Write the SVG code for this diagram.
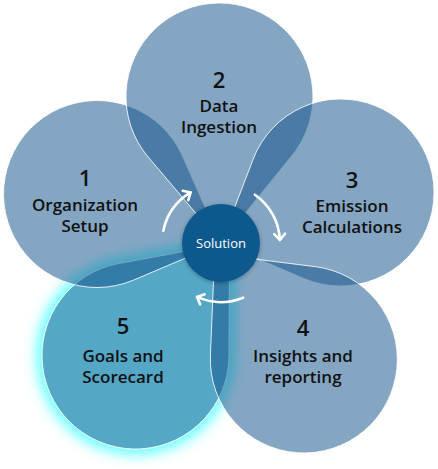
<svg xmlns="http://www.w3.org/2000/svg" width="438" height="469" viewBox="0 0 438 469">
<defs>
<style>
.pet{fill:#14558c;fill-opacity:0.52;stroke:#fff;stroke-opacity:0.85;stroke-width:1}
.p5{fill:#54a7c5;stroke:#fff;stroke-opacity:0.9;stroke-width:1}
.num{font-family:"Open Sans","Noto Sans",sans-serif;font-weight:600;font-size:22px;fill:#111;text-anchor:middle}
.lbl{font-family:"Open Sans","Noto Sans",sans-serif;font-weight:600;font-size:17px;fill:#111;text-anchor:middle}
.arr{fill:none;stroke:#fff;stroke-width:2.6;stroke-linecap:round}
</style>
<filter id="glow" x="-30%" y="-30%" width="160%" height="160%">
<feGaussianBlur stdDeviation="6"/>
</filter>
<filter id="sh" x="-30%" y="-30%" width="160%" height="160%">
<feDropShadow dx="0" dy="1" stdDeviation="2" flood-color="#000" flood-opacity="0.3"/>
</filter>
<marker id="ah" markerUnits="userSpaceOnUse" markerWidth="14" markerHeight="14" viewBox="0 0 14 14" refX="10" refY="7" orient="auto">
<path d="M4,1.5 L10,7 L4,12.5" fill="none" stroke="#fff" stroke-width="2.6" stroke-linecap="round" stroke-linejoin="round"/>
</marker>
</defs>
<g id="glow5">
<path d="M229.5,243 L229,355.1 A93.5,93.5 0 1 1 118.5,263.6 Z" fill="#6ff" filter="url(#glow)" transform="translate(135.5,355.5) scale(1.06) translate(-135.5,-355.5)"/>
</g>
<g id="petal5">
<path class="p5" d="M229.5,243 L229,355.1 A93.5,93.5 0 1 1 118.5,263.6 Z"/>
</g>
<g id="petal1">
<path class="pet" d="M221,243 L133.5,280.1 A93.5,93.5 0 1 1 182.5,156.1 Z"/>
</g>
<g id="petal2">
<path class="pet" d="M221,243 L148.1,156.9 A93.5,93.5 0 1 1 292.1,155.4 Z"/>
</g>
<g id="petal3">
<path class="pet" d="M221,243 L253.2,159.1 A93.5,93.5 0 1 1 303.6,278.4 Z"/>
</g>
<g id="petal4">
<path class="pet" d="M214.6,254 L315.5,266.7 A93.5,93.5 0 1 1 210.4,355.6 Z"/>
</g>
<g id="connectors">
<path class="arr" d="M163.3,230.7 A59,59 0 0 1 190.6,192.4" marker-end="url(#ah)"/>
<path class="arr" d="M254.8,194.7 A58,58 0 0 1 279.9,239.9" marker-end="url(#ah)"/>
<path class="arr" d="M243.1,297.7 A59,59 0 0 1 197,296.9" marker-end="url(#ah)"/>
</g>
<g id="solution">
<circle cx="221" cy="243" r="39" fill="#0a588c" filter="url(#sh)"/>
<text x="221" y="248" font-family="'Open Sans','Noto Sans',sans-serif" font-size="13" fill="#fff" text-anchor="middle">Solution</text>
</g>
<g id="label1">
<text class="num" x="85" y="186">1</text>
<text class="lbl" x="85" y="211">Organization</text>
<text class="lbl" x="85" y="232">Setup</text>
</g>
<g id="label2">
<text class="num" x="219" y="88">2</text>
<text class="lbl" x="219" y="112">Data</text>
<text class="lbl" x="219" y="133">Ingestion</text>
</g>
<g id="label3">
<text class="num" x="352" y="188">3</text>
<text class="lbl" x="352" y="212">Emission</text>
<text class="lbl" x="352" y="233">Calculations</text>
</g>
<g id="label4">
<text class="num" x="303" y="336">4</text>
<text class="lbl" x="303" y="362">Insights and</text>
<text class="lbl" x="303" y="383">reporting</text>
</g>
<g id="label5">
<text class="num" x="123" y="334">5</text>
<text class="lbl" x="123" y="362">Goals and</text>
<text class="lbl" x="123" y="383">Scorecard</text>
</g>
</svg>
